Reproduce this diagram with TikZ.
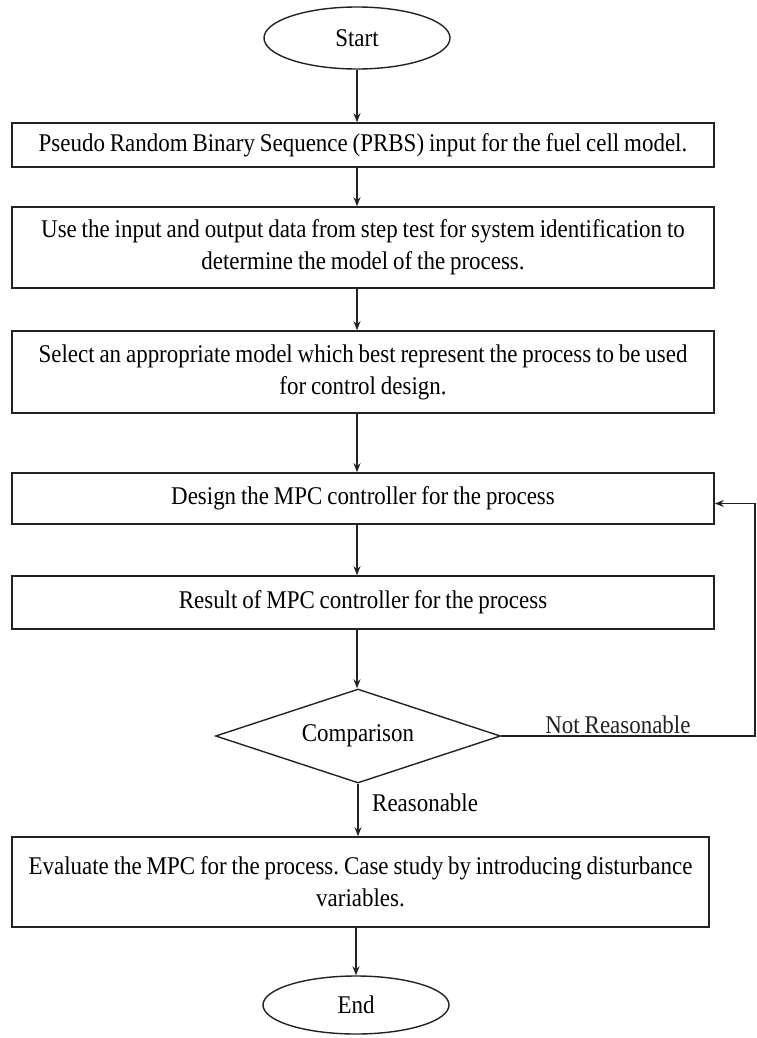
\documentclass[tikz,border=0pt]{standalone}
\usepackage{fontspec}
\setmainfont{Liberation Serif}[FakeStretch=0.9, WordSpace=0.85]
\usepackage{tikz}
\usetikzlibrary{arrows.meta,shapes.geometric,positioning,calc}
\definecolor{lineDark}{RGB}{35,35,35}
\newcommand{\flowfont}{\fontsize{25.5}{32}\selectfont\frenchspacing}
\tikzset{
  stepbox/.style={
    rectangle, draw=lineDark, line width=1.6pt, minimum width=702pt,
    text width=690pt, align=flush center, inner sep=0pt, font=\flowfont
  },
  termnode/.style={
    ellipse, draw=lineDark, line width=1.4pt, minimum width=186pt,
    minimum height=62pt, inner sep=0pt, font=\flowfont
  },
  decisionnode/.style={
    diamond, aspect=3, draw=lineDark, line width=1.4pt, minimum width=285pt,
    minimum height=94pt, inner sep=0pt, font=\flowfont
  },
  flowArrow/.style={-{Stealth[length=9pt,width=7pt]}, line width=1.4pt, color=lineDark},
  flowLabel/.style={font=\flowfont, inner sep=2pt}
}
\begin{document}
\begin{tikzpicture}[x=1pt, y=-1pt]
  \useasboundingbox (0,0) rectangle (756,1038);
  \node[termnode] (start) at (357,38) {Start};
  \node[stepbox, minimum height=44pt] (prbs) at (363,145)
    {Pseudo Random Binary Sequence (PRBS) input for the fuel cell model.};
  \node[stepbox, minimum height=81pt] (ident) at (363,247.5)
    {Use the input and output data from step test for system identification to\\
     determine the model of the process.};
  \node[stepbox, minimum height=82pt] (select) at (363,372)
    {Select an appropriate model which best represent the process to be used\\
     for control design.};
  \node[stepbox, minimum height=51pt] (design) at (363,498.5)
    {Design the MPC controller for the process};
  \node[stepbox, minimum height=53pt] (result) at (363,602.5)
    {Result of MPC controller for the process};
  \node[decisionnode] (compare) at (358,736) {Comparison};
  \node[stepbox, minimum width=697pt, minimum height=90pt] (evaluate) at (360.5,882)
    {Evaluate the MPC for the process. Case study by introducing disturbance\\
     variables.};
  \node[termnode, minimum height=58pt] (finish) at (356,1005) {End};
  \coordinate (rim) at (755,0);

  \draw[flowArrow] (start.south) -- (start.south |- prbs.north);
  \draw[flowArrow] (prbs.south -| start) -- (ident.north -| start);
  \draw[flowArrow] (ident.south -| start) -- (select.north -| start);
  \draw[flowArrow] (select.south -| start) -- (design.north -| start);
  \draw[flowArrow] (design.south -| start) -- (result.north -| start);
  \draw[flowArrow] (result.south -| start) -- (compare.north -| start);
  \draw[flowArrow] (compare.south) -- (compare.south |- evaluate.north);
  \draw[flowArrow] (evaluate.south -| finish) -- (finish.north);
  \draw[flowArrow] (compare.east) -- (compare.east -| rim)
    node[flowLabel, above, pos=0.46] (notok) {Not Reasonable}
    |- ([yshift=-5pt]design.east);
  \node[flowLabel, anchor=north west] (ok) at ([xshift=12pt, yshift=-8pt]compare.south) {Reasonable};
\end{tikzpicture}
\end{document}
